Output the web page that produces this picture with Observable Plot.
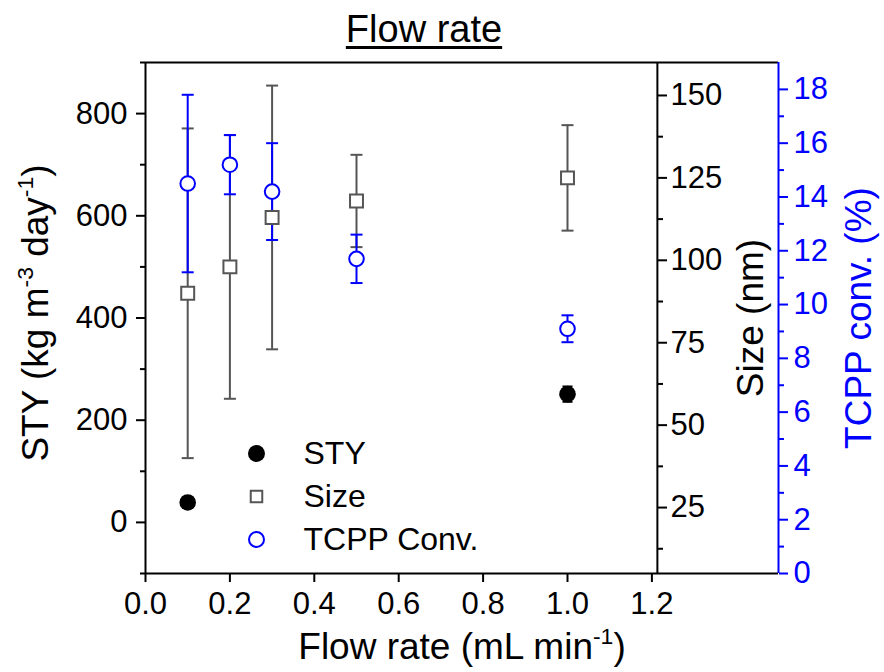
<!DOCTYPE html>
<html>
<head>
<meta charset="utf-8">
<script src="https://cdn.jsdelivr.net/npm/d3@7"></script>
<script src="https://cdn.jsdelivr.net/npm/@observablehq/plot@0.6"></script>
<style>
  body { margin: 0; background: white; }
  #wrap { position: relative; width: 884px; height: 672px; font-family: "Liberation Sans", Arial, sans-serif; }
  #title { position: absolute; top: 11px; left: 424px; transform: translateX(-50%); font-size: 38px; line-height: 37px; white-space: nowrap; text-decoration: underline; text-decoration-thickness: 2.5px; text-underline-offset: 4px; color: black; }
</style>
</head>
<body>
<div id="wrap"><div id="title">Flow rate</div></div>
<script>
// ---- data ----
const flowRate = [0.1, 0.2, 0.3, 0.5, 1.0];
const styFlow = [0.1, 1.0];
const styValue = [39, 251];
const styError = [0, 15];
const sizeValue = [90, 98, 113, 118, 125];
const sizeError = [50, 40, 40, 14, 16];
const tcppValue = [14.5, 15.2, 14.2, 11.7, 9.1];
const tcppError = [3.3, 1.1, 1.8, 0.9, 0.5];

// ---- ticks / domains ----
const xTicks = [0, 0.2, 0.4, 0.6, 0.8, 1.0, 1.2];
const styTicks = [0, 200, 400, 600, 800];
const styMinor = [-100, 100, 300, 500, 700, 900];
const sizeTicks = [25, 50, 75, 100, 125, 150];
const sizeMinor = [12.5, 37.5, 62.5, 87.5, 112.5, 137.5];
const tcppTicks = [0, 2, 4, 6, 8, 10, 12, 14, 16, 18];
const tcppMinor = [1, 3, 5, 7, 9, 11, 13, 15, 17];
const xDomain = [0, 1.5];
const sizeAxisAt = 1.213;
const styDomain = [-100, 900];
const sizeDomain = [5, 160];
const tcppDomain = [0, 19];
const legendLabels = ["STY", "Size", "TCPP Conv."];

const BLUE = "#0000ff";
const GRAY = "#555555";
const FONT = "Liberation Sans, Arial, sans-serif";

const sizeToY = d3.scaleLinear(sizeDomain, styDomain);
const tcppToY = d3.scaleLinear(tcppDomain, styDomain);

const sty = styFlow.map((x, i) => ({x, y: styValue[i], y1: styValue[i] - styError[i], y2: styValue[i] + styError[i]}));
const size = flowRate.map((x, i) => ({x, y: sizeToY(sizeValue[i]), y1: sizeToY(sizeValue[i] - sizeError[i]), y2: sizeToY(sizeValue[i] + sizeError[i])}));
const tcpp = flowRate.map((x, i) => ({x, y: tcppToY(tcppValue[i]), y1: tcppToY(tcppValue[i] - tcppError[i]), y2: tcppToY(tcppValue[i] + tcppError[i])}));

const cap = { draw(ctx, s) { const w = Math.sqrt(s / Math.PI); ctx.moveTo(-w, 0); ctx.lineTo(w, 0); } };

function errorBars(data, color, r = 6) {
  const sel = data.filter(d => d.y2 > d.y1);
  return [
    Plot.ruleX(sel, {x: "x", y1: "y1", y2: "y2", stroke: color, strokeWidth: 2}),
    Plot.dot(sel, {x: "x", y: "y1", symbol: cap, r, stroke: color, strokeWidth: 2}),
    Plot.dot(sel, {x: "x", y: "y2", symbol: cap, r, stroke: color, strokeWidth: 2})
  ];
}

const legendSymbols = [
  {symbol: "circle", fill: "black", stroke: "none", r: 8.5},
  {symbol: "square", fill: "white", stroke: GRAY, r: 6.5},
  {symbol: "circle", fill: "white", stroke: BLUE, r: 7.5}
];

const chart = Plot.plot({
  width: 884,
  height: 672,
  marginLeft: 145,
  marginRight: 106,
  marginTop: 62,
  marginBottom: 99,
  style: {fontFamily: FONT, fontSize: "31px", background: "white", color: "black", overflow: "visible"},
  x: {domain: xDomain},
  y: {domain: styDomain},
  marks: [
    // frame lines
    Plot.ruleY(styDomain, {stroke: "black", strokeWidth: 2}),
    Plot.ruleX([xDomain[0], sizeAxisAt], {stroke: "black", strokeWidth: 2}),
    Plot.ruleX([xDomain[1]], {stroke: BLUE, strokeWidth: 2}),
    // x axis
    Plot.axisX({ticks: xTicks, tickFormat: d3.format(".1f"), tickSize: 9, tickPadding: 9, strokeWidth: 2, fontSize: 31, label: null}),
    // left axis
    Plot.axisY({anchor: "left", ticks: styTicks, tickFormat: d => d, tickSize: 9, tickPadding: 9, strokeWidth: 2, fontSize: 31, label: null}),
    Plot.axisY({anchor: "left", ticks: styMinor, tickSize: 5, strokeWidth: 2, text: null, label: null}),
    // size axis
    Plot.axisY({anchor: "right", dx: -121, ticks: sizeTicks.map(sizeToY), tickFormat: d => Math.round(sizeToY.invert(d)), tickSize: 9, tickPadding: 4, strokeWidth: 2, fontSize: 31, label: null}),
    Plot.axisY({anchor: "right", dx: -121, ticks: sizeMinor.map(sizeToY), tickSize: 5, strokeWidth: 2, text: null, label: null}),
    // tcpp axis
    Plot.axisY({anchor: "right", ticks: tcppTicks.map(tcppToY), tickFormat: d => Math.round(tcppToY.invert(d)), tickSize: 9, tickPadding: 6, strokeWidth: 2, fontSize: 31, stroke: BLUE, fill: BLUE, label: null}),
    Plot.axisY({anchor: "right", ticks: tcppMinor.map(tcppToY), tickSize: 5, strokeWidth: 2, stroke: BLUE, text: null, label: null}),
    // error bars
    ...errorBars(size, GRAY),
    ...errorBars(tcpp, BLUE),
    ...errorBars(sty, "black", 5),
    // points
    Plot.dot(size, {x: "x", y: "y", symbol: "square", r: 7.3, fill: "white", stroke: GRAY, strokeWidth: 2}),
    Plot.dot(tcpp, {x: "x", y: "y", symbol: "circle", r: 7.3, fill: "white", stroke: BLUE, strokeWidth: 2}),
    Plot.dot(sty, {x: "x", y: "y", symbol: "circle", r: 8.3, fill: "black"}),
    // legend
    ...legendLabels.flatMap((lab, i) => [
      Plot.dot([lab], {frameAnchor: "top-left", dx: 111, dy: 391 + 43 * i, symbol: legendSymbols[i].symbol, r: legendSymbols[i].r, fill: legendSymbols[i].fill, stroke: legendSymbols[i].stroke, strokeWidth: 2}),
      Plot.text([lab], {frameAnchor: "top-left", dx: 158, dy: 391 + 43 * i, text: d => d, textAnchor: "start", lineAnchor: "middle", fontSize: 32, fill: "black"})
    ]),
    // axis titles
    Plot.text(["Flow rate (mL min{-1})"], {frameAnchor: "bottom", dy: 74, text: d => d, fontSize: 37, fill: "black", textAnchor: "middle", lineAnchor: "middle"}),
    Plot.text(["STY (kg m{-3} day{-1})"], {frameAnchor: "left", dx: -109, dy: -5, rotate: -90, text: d => d, fontSize: 37, fill: "black", textAnchor: "middle", lineAnchor: "middle"}),
    Plot.text(["Size (nm)"], {frameAnchor: "right", dx: -27, rotate: -90, text: d => d, fontSize: 37, fill: "black", textAnchor: "middle", lineAnchor: "middle"}),
    Plot.text(["TCPP conv. (%)"], {frameAnchor: "right", dx: 81, rotate: -90, text: d => d, fontSize: 37, fill: BLUE, textAnchor: "middle", lineAnchor: "middle"})
  ]
});

// superscripts
const NS = "http://www.w3.org/2000/svg";
chart.querySelectorAll("text").forEach(t => {
  const s = t.textContent;
  if (!s.includes("{")) return;
  const fs = 37;
  t.textContent = "";
  const parts = s.split(/(\{[^}]*\})/).filter(p => p);
  let shifted = false;
  parts.forEach(p => {
    const ts = document.createElementNS(NS, "tspan");
    if (p.startsWith("{")) {
      ts.textContent = p.slice(1, -1);
      ts.setAttribute("font-size", (fs * 0.62) + "px");
      ts.setAttribute("dy", -0.42 * fs);
      shifted = true;
    } else {
      ts.textContent = p;
      if (shifted) { ts.setAttribute("dy", 0.42 * fs); shifted = false; }
    }
    t.appendChild(ts);
  });
});

document.getElementById("wrap").appendChild(chart);
</script>
</body>
</html>
